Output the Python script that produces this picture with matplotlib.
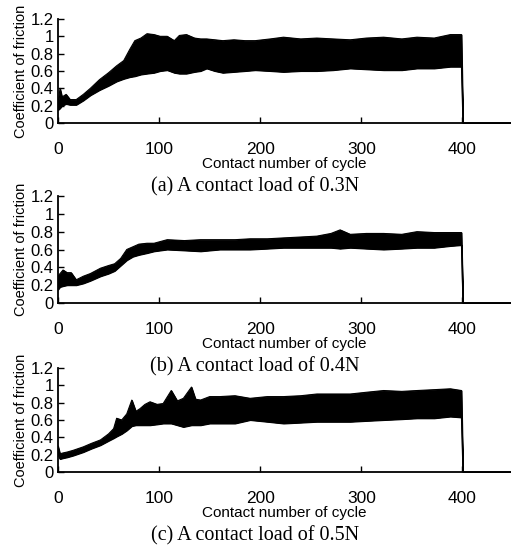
import numpy as np
import matplotlib.pyplot as plt

# ── 讀圖估計的數據：摩擦係數包絡線（下限／上限）────────────
cycle_a = [0, 2, 4, 8, 12, 18, 25, 32, 41, 50, 58, 65, 71, 76, 82, 88, 95,
           101, 108, 115, 120, 127, 135, 141, 147, 155, 163, 174, 185, 195,
           210, 223, 240, 256, 272, 289, 305, 322, 340, 355, 372, 388, 399]
low_a = [0.15, 0.17, 0.2, 0.22, 0.21, 0.21, 0.26, 0.32, 0.38, 0.43, 0.48,
         0.51, 0.53, 0.54, 0.56, 0.57, 0.58, 0.6, 0.61, 0.58, 0.57, 0.57,
         0.59, 0.6, 0.63, 0.6, 0.58, 0.59, 0.6, 0.61, 0.6, 0.59, 0.6, 0.6,
         0.61, 0.63, 0.62, 0.61, 0.61, 0.63, 0.63, 0.65, 0.65]
up_a = [0.22, 0.4, 0.3, 0.33, 0.27, 0.27, 0.33, 0.4, 0.5, 0.58, 0.66, 0.72,
        0.85, 0.95, 0.98, 1.03, 1.02, 1.0, 1.0, 0.95, 1.01, 1.02, 0.98, 0.97,
        0.97, 0.96, 0.95, 0.96, 0.95, 0.95, 0.97, 0.99, 0.97, 0.98, 0.97,
        0.96, 0.98, 0.99, 0.97, 0.99, 0.98, 1.02, 1.02]

cycle_b = [0, 2, 5, 9, 13, 18, 25, 32, 42, 50, 56, 62, 68, 74, 80, 88, 95,
           108, 125, 141, 160, 175, 190, 207, 223, 240, 256, 270, 279, 289,
           305, 322, 340, 355, 372, 388, 399]
low_b = [0.15, 0.18, 0.19, 0.2, 0.2, 0.2, 0.22, 0.25, 0.3, 0.33, 0.36, 0.42,
         0.48, 0.52, 0.54, 0.56, 0.58, 0.6, 0.59, 0.58, 0.6, 0.6, 0.6, 0.61,
         0.62, 0.62, 0.62, 0.62, 0.61, 0.62, 0.61, 0.6, 0.61, 0.62, 0.62,
         0.64, 0.65]
up_b = [0.3, 0.33, 0.37, 0.34, 0.34, 0.26, 0.3, 0.33, 0.39, 0.42, 0.44,
        0.5, 0.6, 0.63, 0.66, 0.67, 0.67, 0.71, 0.7, 0.71, 0.71, 0.71, 0.72,
        0.72, 0.73, 0.74, 0.75, 0.78, 0.82, 0.77, 0.78, 0.78, 0.77, 0.8,
        0.79, 0.79, 0.79]

cycle_c = [0, 2, 5, 9, 15, 25, 33, 42, 50, 55, 58, 63, 68, 73, 77, 81, 86,
           91, 98, 104, 112, 118, 124, 132, 136, 141, 150, 160, 175, 190,
           207, 223, 240, 256, 272, 289, 305, 322, 340, 355, 372, 388, 399]
low_c = [0.2, 0.15, 0.16, 0.17, 0.19, 0.23, 0.27, 0.31, 0.36, 0.39, 0.41,
         0.44, 0.48, 0.53, 0.54, 0.54, 0.54, 0.54, 0.55, 0.56, 0.56, 0.54,
         0.52, 0.54, 0.54, 0.54, 0.56, 0.56, 0.56, 0.6, 0.58, 0.56, 0.57,
         0.58, 0.58, 0.58, 0.59, 0.6, 0.61, 0.62, 0.62, 0.64, 0.63]
up_c = [0.3, 0.21, 0.22, 0.23, 0.25, 0.29, 0.33, 0.37, 0.44, 0.5, 0.62,
        0.6, 0.67, 0.83, 0.7, 0.73, 0.78, 0.81, 0.78, 0.79, 0.94, 0.82,
        0.85, 0.98, 0.84, 0.83, 0.87, 0.87, 0.88, 0.85, 0.87, 0.87, 0.88,
        0.9, 0.9, 0.9, 0.92, 0.94, 0.93, 0.94, 0.95, 0.96, 0.94]

captions = ["(a) A contact load of 0.3N",
            "(b) A contact load of 0.4N",
            "(c) A contact load of 0.5N"]
x_ticks = [0, 100, 200, 300, 400]
y_ticks = [0, 0.2, 0.4, 0.6, 0.8, 1.0, 1.2]
y_ticklabels = ["0", "0.2", "0.4", "0.6", "0.8", "1", "1.2"]

W, H = 511, 554
fig = plt.figure(figsize=(W / 100, H / 100), dpi=100)
plt.rcParams["font.family"] = ["Liberation Sans", "DejaVu Sans"]

# 各子圖在像素座標中的 (下緣y, 上緣y)
boxes = [(123, 19), (303, 196), (472, 368)]
panels = [(cycle_a, low_a, up_a), (cycle_b, low_b, up_b),
          (cycle_c, low_c, up_c)]

for (bot, top), (cx, lo, up), cap in zip(boxes, panels, captions):
    ax = fig.add_axes([58 / W, 1 - bot / H, (W - 58) / W, (bot - top) / H])
    x = np.array(cx + [400.5, 402, 448])
    lo_arr = np.array(lo + [0, 0, 0])
    up_arr = np.array(up + [0, 0, 0])
    ax.fill_between(x, lo_arr, up_arr, color="black", linewidth=0.8,
                    edgecolor="black")
    ax.plot(x, up_arr, color="black", linewidth=0.8)
    ax.plot(x, lo_arr, color="black", linewidth=0.8)
    ax.set_xlim(0, 448)
    ax.set_ylim(0, 1.2)
    ax.set_xticks(x_ticks)
    ax.set_yticks(y_ticks)
    ax.set_yticklabels(y_ticklabels)
    ax.tick_params(direction="in", length=4, width=1, labelsize=12, pad=3)
    ax.tick_params(axis="x", labelsize=12.5, pad=14)
    for s in ["top", "right"]:
        ax.spines[s].set_visible(False)
    for s in ["left", "bottom"]:
        ax.spines[s].set_linewidth(1.3)
    ax.set_ylabel("Coefficient of friction", fontsize=10.5, labelpad=2)
    ax.set_xlabel("Contact number of cycle", fontsize=11, labelpad=0)
    fig.text(255 / W, 1 - (bot + 64) / H, cap, ha="center", va="center",
             fontsize=14.5, family=["Liberation Serif", "DejaVu Serif"])

fig.savefig("out.png", dpi=100)
